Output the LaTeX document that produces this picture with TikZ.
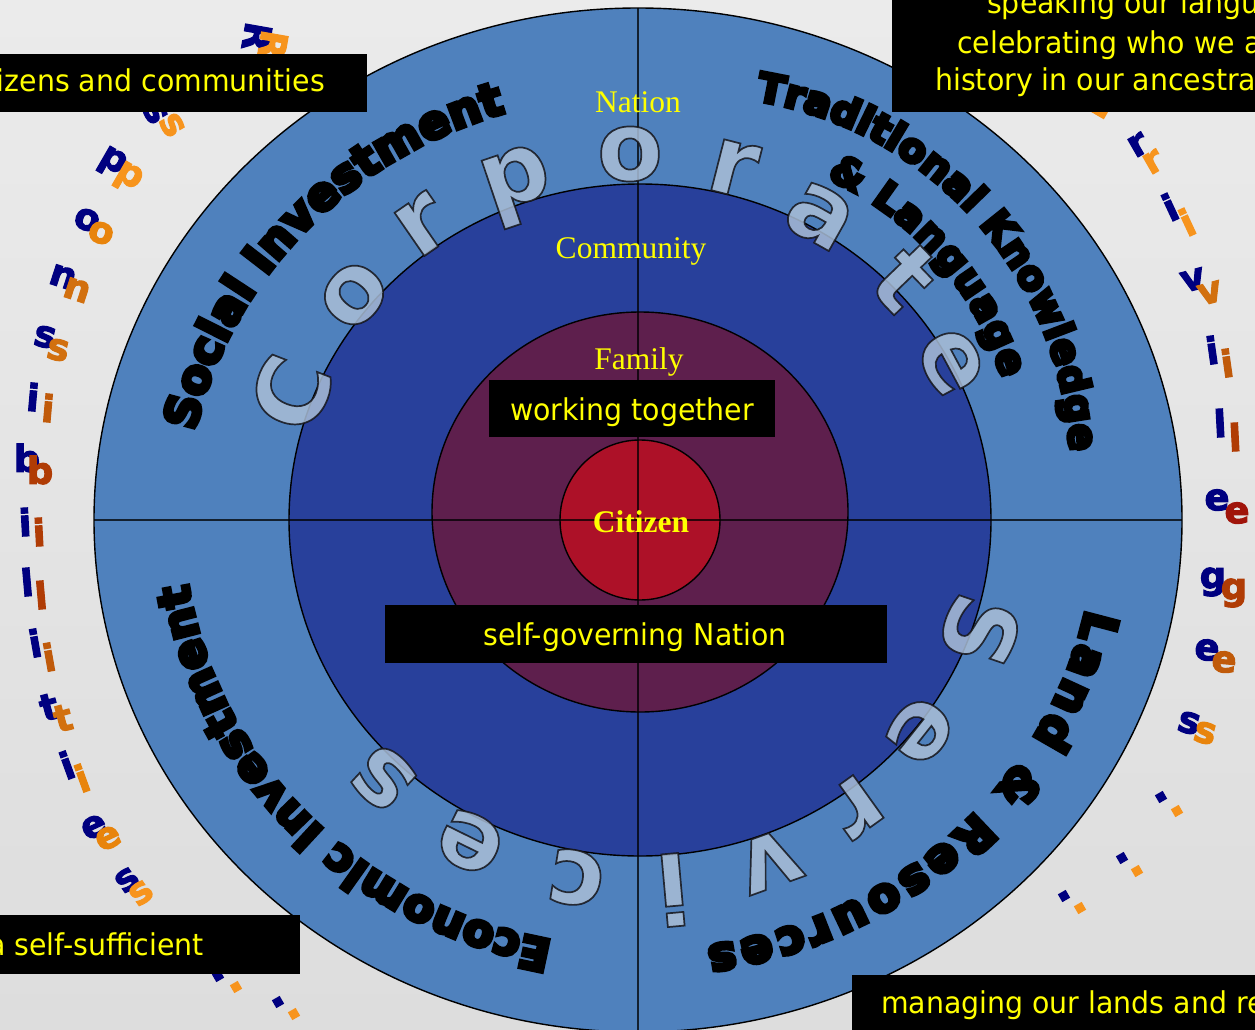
\documentclass[tikz,border=0pt]{standalone}
\usepackage{fontspec}
\usetikzlibrary{calc,decorations.text}
\newfontfamily\serifface{Liberation Serif}
\newfontfamily\boxface[FakeStretch=0.946]{DejaVu Sans}
\newfontfamily\heavyface[FakeBold=9]{DejaVu Sans Bold}
\newfontfamily\sideface[FakeBold=3]{DejaVu Sans Bold}
\newfontfamily\letterface{DejaVu Sans Bold}
\definecolor{bgA}{HTML}{EBEBEB}
\definecolor{bgB}{HTML}{FAFAFA}
\definecolor{bgC}{HTML}{DDDDDD}
\definecolor{ringO}{HTML}{4F81BD}
\definecolor{ringC}{HTML}{28409B}
\definecolor{ringF}{HTML}{5E1F4D}
\definecolor{ringZ}{HTML}{AD1128}
\definecolor{ylw}{HTML}{FFFF00}
\definecolor{corpfill}{HTML}{A9BDD6}
\definecolor{navyL}{HTML}{000080}
\definecolor{oA}{HTML}{F7941D}
\definecolor{oB}{HTML}{E8840C}
\definecolor{oC}{HTML}{D2700F}
\definecolor{oD}{HTML}{C05A0A}
\definecolor{oE}{HTML}{B03C05}
\definecolor{oF}{HTML}{A0140A}
\newcommand\outl[1]{\special{pdf:literal direct 2 Tr 1.7 w 0.08 0.08 0.1 RG}#1\special{pdf:literal direct 0 Tr}}
\begin{document}
\begin{tikzpicture}[x=1pt,y=1pt,
  ringline/.style={draw=black, line width=1.4pt},
  quad/.style={draw=black, draw opacity=0.75, line width=1.4pt},
  lbl/.style={text=ylw, inner sep=0pt, font=\serifface\fontsize{31.5}{32}\selectfont},
  boxtxt/.style={text=ylw, inner sep=0pt, font=\boxface\fontsize{30}{30}\selectfont},
  corp/.style={inner sep=0pt, text=corpfill, text opacity=0.85, font=\letterface\fontsize{96}{96}\selectfont},
  sidel/.style={inner sep=0pt, font=\sideface\fontsize{37}{37}\selectfont},
  dotsq/.style={inner sep=0pt, minimum size=9pt, rotate=30}
]
\useasboundingbox (0,-1030) rectangle (1255,0);
\clip (0,-1030) rectangle (1255,0);
% background
\shade[top color=bgA, middle color=bgB, bottom color=bgC] (0,-1030) rectangle (1255,0);
\coordinate (c0) at (638,-520);
\coordinate (c1) at (697,-469);
% rings
\path[ringline, fill=ringO] (c0) ellipse [x radius=544, y radius=512];
\path[ringline, fill=ringC] (640,-520) ellipse [x radius=351, y radius=336];
\path[ringline, fill=ringF] (640,-512) ellipse [x radius=208, y radius=200];
\path[ringline, fill=ringZ] (640,-520) circle [radius=80];
% quadrant lines
\coordinate (vt) at (638,-8);
\coordinate (vb) at (638,-1032);
\coordinate (hl) at (94,-520);
\coordinate (hr) at (1182,-520);
\draw[quad] (vt) -- (vb);
\draw[quad] (hl) -- (hr);
% level labels
\node[lbl, anchor=base] (nation) at (638,-113) {Nation};
\node[lbl, anchor=base] (community) at (631,-258) {Community};
\node[lbl, anchor=base] (family) at (639,-369) {Family};
\node[lbl, anchor=base, font=\serifface\bfseries\fontsize{31.5}{32}\selectfont] (citizen) at (641,-532) {Citizen};
% curved titles
\path[decorate, decoration={text along path, text align={fit to path},
  text={|\heavyface\fontsize{46}{46}\selectfont|Social Investment}}]
  ($(c0)+(168:453 and 426)$) arc[start angle=168, end angle=107, x radius=453, y radius=426];
\path[decorate, decoration={text along path, text align={fit to path},
  text={|\heavyface\fontsize{40}{40}\selectfont|Traditional Knowledge}}]
  ($(c1)+(81:373)$) arc[start angle=81, end angle=2.7, radius=373];
\path[decorate, decoration={text along path, text align={fit to path},
  text={|\heavyface\fontsize{40}{40}\selectfont|{\&} Language}}]
  ($(c1)+(66:318)$) arc[start angle=66, end angle=16.5, radius=318];
\path[decorate, decoration={text along path, text align={fit to path},
  text={|\heavyface\fontsize{45}{45}\selectfont|Economic Investment}}]
  ($(c0)+(259.2:455 and 428)$) arc[start angle=259.2, end angle=188.7, x radius=455, y radius=428];
\path[decorate, decoration={text along path, text align={fit to path},
  text={|\heavyface\fontsize{47}{47}\selectfont|Land {\&} Resources}}]
  ($(c0)+(-11.9:458 and 431)$) arc[start angle=-11.9, end angle=-81.4, x radius=458, y radius=431];
% Corporate Services letters
\foreach \ch/\px/\py/\rt [count=\k] in {C/291/393/68.7, o/354/295/49.9, r/422/225/34.6, p/518/186/18.7, o/630/154/1.2, r/733/168/-14.3, a/820/216/-29.4, t/905/278/-46.1, e/951/362/-61.8, S/980/631/-109, e/920/731/-128.5, r/856/806/-144.4, v/769/861/-160.1, i/673/890/-174.9, c/576/878/-189.3, e/470/842/-206.2, s/383/778/-222.9}
  \node[corp, rotate=\rt] (corp\k) at (\px,-\py) {\outl{\ch}};
% Responsibilities (left)
\foreach \ch/\nx/\ny/\ox/\oy/\rt/\oc [count=\k] in {
  R/257/37/273/45/-100/oA, s/155/112/172/125/-60/oA, p/112/163/128/178/-30/oA,
  o/87/220/101/233/-20/oB, n/63/277/77/290/-18/oC, s/45/337/58/350/-12/oC,
  i/33/397/48/408/-5/oD, b/27/458/40/470/0/oE, i/25/522/39/532/3/oE,
  l/27/582/41/595/5/oE, i/35/643/49/657/10/oD, t/49/707/63/718/15/oC,
  i/67/765/82/778/20/oB, e/94/827/108/838/25/oB, s/127/880/141/893/35/oA}
{
  \node[sidel, text=navyL, rotate=\rt] (ln\k) at (\nx,-\ny) {\ch};
  \node[sidel, text=\oc, rotate=\rt] (lo\k) at (\ox,-\oy) {\ch};
}
% Privileges (right)
\node[sidel, text=oA, rotate=60] (rP) at (1097,-103) {P};
\foreach \ch/\nx/\ny/\ox/\oy/\rt/\oc [count=\k] in {
  r/1138/145/1153/162/30/oA, i/1170/207/1187/222/25/oA, v/1193/280/1210/293/15/oC,
  i/1212/350/1227/363/8/oD, l/1220/423/1235/437/3/oE, e/1217/500/1237/513/0/oF,
  g/1213/582/1234/593/0/oE, e/1207/650/1224/662/-5/oD, s/1189/723/1205/733/-15/oB}
{
  \node[sidel, text=navyL, rotate=\rt] (rn\k) at (\nx,-\ny) {\ch};
  \node[sidel, text=\oc, rotate=\rt] (ro\k) at (\ox,-\oy) {\ch};
}
% trailing dots
\foreach \dx/\dy/\dc [count=\k] in {218/976/navyL, 236/987/oA, 278/1002/navyL, 294/1014/oA,
  1161/797/navyL, 1177/811/oA, 1122/858/navyL, 1137/871/oA, 1064/896/navyL, 1080/908/oA}
  \node[dotsq, fill=\dc] (dot\k) at (\dx,-\dy) {};
% black boxes
\fill[black] (0,-54) rectangle (367,-112);
\fill[black] (892,0) rectangle (1255,-112);
\fill[black] (489,-380) rectangle (775,-437);
\fill[black] (385,-605) rectangle (887,-663);
\fill[black] (0,-915) rectangle (300,-974);
\fill[black] (852,-975) rectangle (1255,-1030);
% box texts
\node[boxtxt, anchor=base east] (t1) at (325,-92) {izens and communities};
\node[boxtxt, anchor=base west] (t2a) at (987,-14) {speaking our langu};
\node[boxtxt, anchor=base west] (t2b) at (957,-54) {celebrating who we a};
\node[boxtxt, anchor=base west] (t2c) at (935,-91) {history in our ancestra};
\node[boxtxt, anchor=base] (t3) at (632,-420) {working together};
\node[boxtxt, anchor=base] (t4) at (635,-645) {self-governing Nation};
\node[boxtxt, anchor=base west] (t5) at (-12,-955) {a self-sufficient};
\node[boxtxt, anchor=base west] (t6) at (881,-1013) {managing our lands and re};
\end{tikzpicture}
\end{document}
